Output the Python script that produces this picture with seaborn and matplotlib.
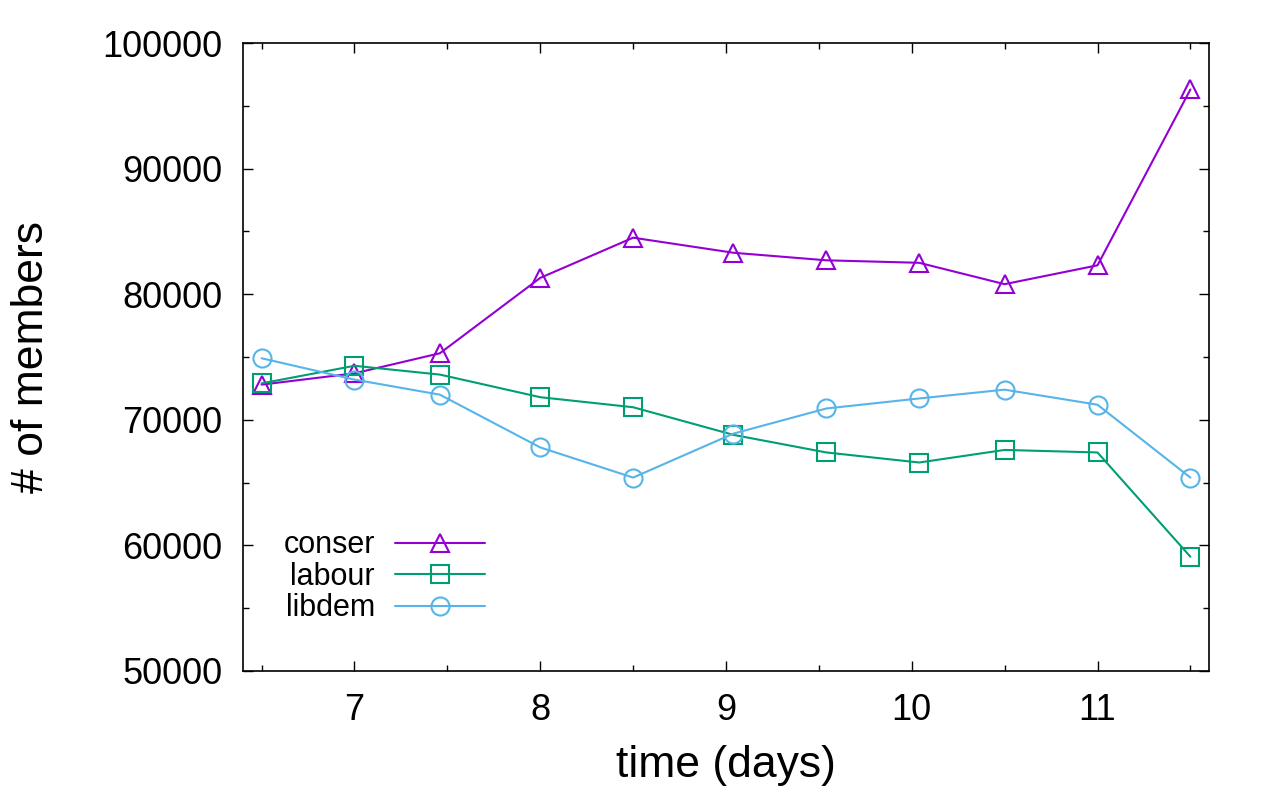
import seaborn as sns
import pandas as pd
import matplotlib.pyplot as plt
from matplotlib.ticker import MultipleLocator

# membership over time
days = [6.5, 7.0, 7.46, 8.0, 8.5, 9.04, 9.54, 10.04, 10.5, 11.0, 11.5]
conser = [72800, 73700, 75300, 81300, 84500, 83300, 82700, 82500, 80800, 82300, 96300]
labour = [72900, 74300, 73600, 71800, 71000, 68800, 67400, 66600, 67600, 67400, 59100]
libdem = [74900, 73200, 72000, 67800, 65400, 68900, 70900, 71700, 72400, 71200, 65400]

sns.set_style("ticks")
plt.rcParams['font.family'] = ['Liberation Sans', 'DejaVu Sans']
plt.rcParams['text.color'] = 'black'
plt.rcParams['axes.labelcolor'] = 'black'
plt.rcParams['xtick.color'] = 'black'
plt.rcParams['ytick.color'] = 'black'

fig = plt.figure(figsize=(12.75, 7.88), dpi=100)
ax = fig.add_axes([0.1906, 0.1485, 0.7576, 0.7969])

series = [("conser", conser, "#9400D3", "^"),
          ("labour", labour, "#009E73", "s"),
          ("libdem", libdem, "#56B4E9", "o")]

for name, vals, col, mk in series:
    df = pd.DataFrame({"time (days)": days, "# of members": vals})
    sns.lineplot(x="time (days)", y="# of members", data=df, ax=ax,
                 color=col, marker=mk, markersize=13, markerfacecolor="none",
                 markeredgecolor=col, markeredgewidth=1.5, linewidth=1.5,
                 label=name)

ax.set_xlim(6.4, 11.6)
ax.set_ylim(50000, 100000)
ax.xaxis.set_major_locator(MultipleLocator(1))
ax.xaxis.set_minor_locator(MultipleLocator(0.5))
ax.yaxis.set_major_locator(MultipleLocator(10000))
ax.yaxis.set_minor_locator(MultipleLocator(5000))
ax.tick_params(which="both", direction="in", top=True, right=True,
               width=1, labelsize=26)
ax.tick_params(axis="y", pad=15)
ax.tick_params(axis="x", pad=16)
ax.tick_params(which="major", length=7)
ax.tick_params(which="minor", length=4)
for sp in ax.spines.values():
    sp.set_linewidth(1.2)
    sp.set_color("black")

ax.set_xlabel("time (days)", fontsize=32, labelpad=12)
ax.set_ylabel("# of members", fontsize=32, labelpad=36)

ax.legend(loc="upper right", bbox_to_anchor=(0.2505, 0.224), frameon=False,
          markerfirst=False, fontsize=22, handlelength=2.95,
          handletextpad=0.65, labelspacing=0.05, borderpad=0,
          borderaxespad=0)

fig.savefig("out.png", dpi=100)
